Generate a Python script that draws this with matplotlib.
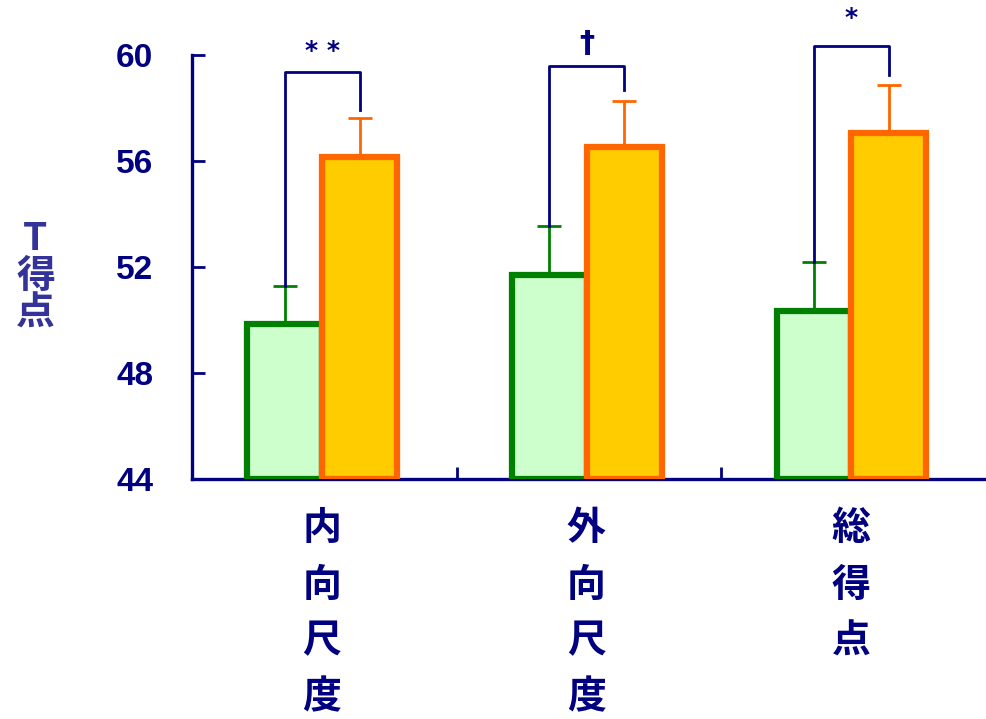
import numpy as np
import matplotlib
matplotlib.use("Agg")
import matplotlib.pyplot as plt

plt.rcParams['font.family'] = ['Noto Sans CJK JP', 'DejaVu Sans']

# data
categories = ["内\n向\n尺\n度", "外\n向\n尺\n度", "総\n得\n点"]
group_a = [49.85, 51.70, 50.34]        # green bars
group_a_err = [1.43, 1.85, 1.85]
group_b = [56.15, 56.53, 57.06]        # orange bars
group_b_err = [1.47, 1.73, 1.81]
sig_marks = ["* *", "†", "*"]
bracket_top = [59.36, 59.58, 60.34]
bracket_right_end = [57.92, 58.68, 59.25]
yticks = [44, 48, 52, 56, 60]

# label offsets above the brackets
sig_offset = [0.8, 0.85, 1.05]
sig_size = [18, 22, 18]

navy = '#000080'

fig = plt.figure(figsize=(9.86, 7.19), dpi=100)
ax = fig.add_axes([0.1947, 0.3338, 0.8053, 0.5897])

x = np.arange(len(categories))
w = 0.283
xa = x - 0.15
xb = x + 0.133

ax.bar(xa, np.array(group_a) - 44, w, bottom=44, color='#CCFFCC',
       edgecolor='#008000', linewidth=4.5, zorder=3)
ax.bar(xb, np.array(group_b) - 44, w, bottom=44, color='#FFCC00',
       edgecolor='#FF6600', linewidth=4.5, zorder=3)

# upward-only error bars
ax.errorbar(xa, group_a, yerr=[np.zeros(3), group_a_err], fmt='none',
            ecolor='#008000', elinewidth=2, capsize=8.3, capthick=2, zorder=2)
ax.errorbar(xb, group_b, yerr=[np.zeros(3), group_b_err], fmt='none',
            ecolor='#FF6600', elinewidth=2, capsize=8.3, capthick=2, zorder=2)

# significance brackets
for i in range(len(categories)):
    y_left = group_a[i] + group_a_err[i]
    ax.plot([xa[i], xa[i], xb[i], xb[i]],
            [y_left, bracket_top[i], bracket_top[i], bracket_right_end[i]],
            color=navy, linewidth=2, clip_on=False, zorder=4)
    ax.text((xa[i] + xb[i]) / 2, bracket_top[i] + sig_offset[i], sig_marks[i],
            ha='center', va='center', color=navy, fontsize=sig_size[i],
            fontweight='bold', family=['DejaVu Sans'])

ax.set_xlim(-0.5, 2.5)
ax.set_ylim(44, 60)

ax.spines['top'].set_visible(False)
ax.spines['right'].set_visible(False)
for s in ['left', 'bottom']:
    ax.spines[s].set_color(navy)
    ax.spines[s].set_linewidth(2.4)

ax.set_yticks(yticks)
ax.set_yticklabels([str(t) for t in yticks])
ax.tick_params(axis='y', direction='in', length=9, width=2, color=navy,
               labelcolor=navy, labelsize=24, pad=28)
for lab in ax.get_yticklabels():
    lab.set_fontweight('bold')
    lab.set_family(['Liberation Sans', 'DejaVu Sans'])

ax.set_xticks([0.5, 1.5])
ax.set_xticklabels([])
ax.tick_params(axis='x', direction='in', length=9, width=2, color=navy)

for i, c in enumerate(categories):
    ax.text(x[i] - 0.01, 42.85, c, ha='center', va='top', color=navy,
            fontsize=28, fontweight='bold', linespacing=1.55)

fig.text(0.036, 0.616, "T\n得\n点", ha='center', va='center', color='#333399',
         fontsize=28, fontweight='bold', linespacing=0.95)

fig.savefig('out.png', dpi=100)
